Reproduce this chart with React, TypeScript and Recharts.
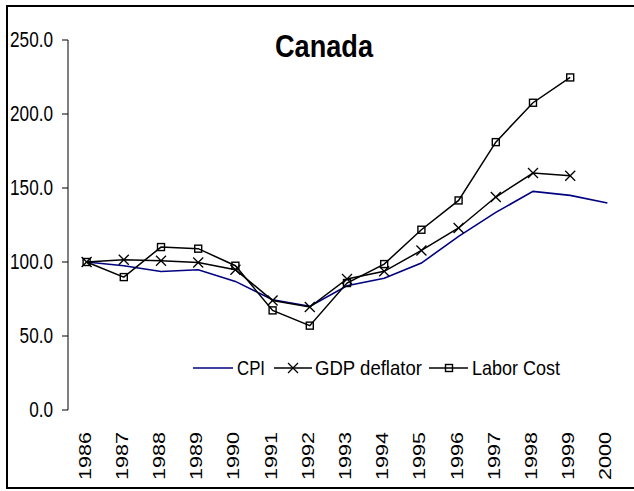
import React from 'react';
import { LineChart, Line, XAxis, YAxis } from 'recharts';

const years = ['1986', '1987', '1988', '1989', '1990', '1991', '1992', '1993', '1994', '1995', '1996', '1997', '1998', '1999', '2000'];
const cpi = [100, 97.5, 93.6, 94.8, 86.9, 74.5, 70.0, 84.0, 89.0, 99.3, 117.3, 133.5, 147.7, 145.0, 139.9];
const gdpDeflator = [100, 101.5, 100.9, 99.7, 94.8, 74.0, 69.6, 88.5, 93.7, 107.8, 123.0, 143.9, 160.1, 158.3, null];
const laborCost = [100, 89.8, 110.1, 109.0, 97.5, 67.3, 57.0, 85.8, 98.6, 121.8, 141.6, 181.0, 207.6, 224.7, null];
const yTicks = [0, 50, 100, 150, 200, 250];
const boundaryTicks = [0, 1, 2, 3, 4, 5, 6, 7, 8, 9, 10, 11, 12, 13, 14, 15];
const seriesNames = ['CPI', 'GDP deflator', 'Labor Cost'];
const chartTitle = 'Canada';

const data = years.map((year, i) => ({
  year,
  cpi: cpi[i],
  gdp: gdpDeflator[i],
  labor: laborCost[i],
}));

const FONT = '"Liberation Sans", Arial, sans-serif';
const NAVY = '#000080';

const XTick = (props: any) => {
  const { x, y, payload } = props;
  return (
    <text
      transform={`translate(${x + 4},${y + 22}) rotate(-90)`}
      textAnchor="end"
      fontFamily={FONT}
      fontSize={17}
      fill="#000"
      textLength={48}
      lengthAdjust="spacingAndGlyphs"
    >
      {payload.value}
    </text>
  );
};

const YTick = (props: any) => {
  const { x, y, payload } = props;
  return (
    <text
      transform={`translate(${x},${y + 7}) scale(0.78,1)`}
      textAnchor="end"
      fontFamily={FONT}
      fontSize={22}
      fill="#000"
    >
      {Number(payload.value).toFixed(1)}
    </text>
  );
};

const EmptyTick = () => <g />;

const XDot = (props: any) => {
  const { cx, cy } = props;
  if (cx == null || cy == null) return <g />;
  const s = 5;
  return (
    <g>
      <line x1={cx - s} y1={cy - s} x2={cx + s} y2={cy + s} stroke="#000" strokeWidth={1.3} />
      <line x1={cx - s} y1={cy + s} x2={cx + s} y2={cy - s} stroke="#000" strokeWidth={1.3} />
    </g>
  );
};

const SquareDot = (props: any) => {
  const { cx, cy } = props;
  if (cx == null || cy == null) return <g />;
  const s = 3.5;
  return <rect x={cx - s} y={cy - s} width={2 * s} height={2 * s} fill="none" stroke="#000" strokeWidth={1.4} />;
};

export default function App() {
  return (
    <div style={{ position: 'absolute', left: 0, top: 0, width: 634, height: 491, overflow: 'hidden', background: '#fff' }}>
      <div
        style={{
          position: 'absolute',
          left: 6,
          top: 5,
          width: 660,
          height: 484,
          boxSizing: 'border-box',
          border: '2px solid #000',
        }}
      />
      <div style={{ position: 'absolute', left: 0, top: 0 }}>
        <LineChart width={634} height={491} data={data} margin={{ top: 40, right: 8, left: 0, bottom: 0 }}>
          <XAxis
            xAxisId="b"
            type="number"
            domain={[0, 15]}
            ticks={boundaryTicks}
            allowDataOverflow
            height={0}
            tickSize={8}
            tick={EmptyTick}
            axisLine={{ stroke: '#000', strokeWidth: 1 }}
            tickLine={{ stroke: '#000', strokeWidth: 1 }}
            interval={0}
          />
          <XAxis
            xAxisId="c"
            dataKey="year"
            height={81}
            axisLine={false}
            tickLine={false}
            tickSize={0}
            tickMargin={0}
            interval={0}
            padding={{ left: 18.6, right: 18.6 }}
            tick={XTick}
          />
          <YAxis
            domain={[0, 250]}
            ticks={yTicks}
            interval={0}
            width={68}
            tickSize={6}
            tickMargin={9}
            axisLine={{ stroke: '#000', strokeWidth: 1 }}
            tickLine={{ stroke: '#000', strokeWidth: 1 }}
            tick={YTick}
          />
          <Line xAxisId="c" type="linear" dataKey="cpi" name={seriesNames[0]} stroke={NAVY} strokeWidth={1.6} dot={false} isAnimationActive={false} />
          <Line xAxisId="c" type="linear" dataKey="gdp" name={seriesNames[1]} stroke="#000" strokeWidth={1.5} dot={XDot} activeDot={false} isAnimationActive={false} />
          <Line xAxisId="c" type="linear" dataKey="labor" name={seriesNames[2]} stroke="#000" strokeWidth={1.5} dot={SquareDot} activeDot={false} isAnimationActive={false} />
        </LineChart>
      </div>
      <svg width={634} height={491} style={{ position: 'absolute', left: 0, top: 0, pointerEvents: 'none' }}>
        <text
          x={324}
          y={57}
          textAnchor="middle"
          fontFamily={FONT}
          fontWeight="bold"
          fontSize={32}
          fill="#000"
          textLength={98}
          lengthAdjust="spacingAndGlyphs"
        >
          {chartTitle}
        </text>
        <g>
          <line x1={193} y1={368} x2={233} y2={368} stroke={NAVY} strokeWidth={1.6} />
          <text x={237} y={375} fontFamily={FONT} fontSize={21} fill="#000" textLength={28} lengthAdjust="spacingAndGlyphs">
            {seriesNames[0]}
          </text>
          <line x1={274} y1={368} x2={312} y2={368} stroke="#000" strokeWidth={1.5} />
          <line x1={288} y1={363} x2={298} y2={373} stroke="#000" strokeWidth={1.3} />
          <line x1={288} y1={373} x2={298} y2={363} stroke="#000" strokeWidth={1.3} />
          <text x={315} y={375} fontFamily={FONT} fontSize={21} fill="#000" textLength={107} lengthAdjust="spacingAndGlyphs">
            {seriesNames[1]}
          </text>
          <line x1={429} y1={368} x2={468} y2={368} stroke="#000" strokeWidth={1.5} />
          <rect x={445.5} y={364.5} width={7} height={7} fill="none" stroke="#000" strokeWidth={1.4} />
          <text x={472} y={375} fontFamily={FONT} fontSize={21} fill="#000" textLength={88} lengthAdjust="spacingAndGlyphs">
            {seriesNames[2]}
          </text>
        </g>
      </svg>
    </div>
  );
}
